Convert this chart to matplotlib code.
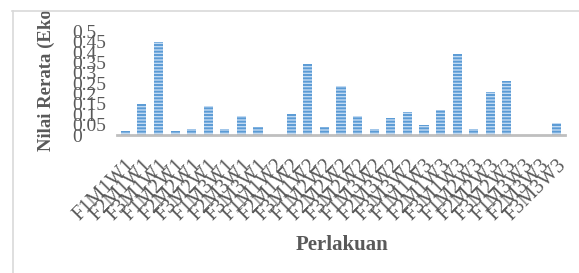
import matplotlib
matplotlib.use("Agg")
import matplotlib.pyplot as plt
import numpy as np

# perlakuan F x M x W, urutan seperti di grafik asli
labels = ["F1M1W1", "F2M1W1", "F3M1W1", "F1M2W1", "F2M2W1", "F3M2W1", "F1M3W1", "F2M3W1", "F3M3W1",
          "F1M1W2", "F2M1W2", "F3M1W2", "F1M2W2", "F2M2W2", "F3M2W2", "F1M3W2", "F2M3W2", "F3M3W2",
          "F1M1W3", "F2M1W3", "F3M1W3", "F1M2W3", "F2M2W3", "F3M2W3", "F1M3W3", "F2M3W3", "F3M3W3"]
values = [0.02, 0.15, 0.45, 0.02, 0.03, 0.14, 0.03, 0.09, 0.04,
          0.0, 0.10, 0.345, 0.04, 0.235, 0.09, 0.03, 0.08, 0.11,
          0.05, 0.12, 0.39, 0.03, 0.21, 0.26, 0.0, 0.0, 0.06]
yticks = [0, 0.05, 0.1, 0.15, 0.2, 0.25, 0.3, 0.35, 0.4, 0.45, 0.5]
ytick_labels = ["0", "0.05", "0.1", "0.15", "0.2", "0.25", "0.3", "0.35", "0.4", "0.45", "0.5"]

plt.rcParams['font.family'] = ['Liberation Serif', 'DejaVu Serif']
plt.rcParams['hatch.linewidth'] = 1.4

fig = plt.figure(figsize=(5.79, 2.73), dpi=100)
ax = fig.add_axes([117/579, 1 - 135/273, 448/579, (135 - 31.5)/273])

x = np.arange(len(labels))
ax.bar(x, values, width=0.55, color="#C2DAF2", edgecolor="#5B9BD5",
       linewidth=0, hatch="-----")

ax.set_xlim(-0.5, len(labels) - 0.5)
ax.set_ylim(0, 0.5)
ax.set_yticks(yticks)
ax.set_yticklabels(ytick_labels, ha="left", fontsize=14, color="#595959")
ax.tick_params(axis="y", length=0, pad=32)
ax.set_xticks(x)
ax.set_xticklabels(labels, rotation=45, ha="right", va="top", rotation_mode="anchor",
                   fontsize=14.5, color="#595959")
ax.tick_params(axis="x", length=0, pad=15)

for s in ["top", "right", "left"]:
    ax.spines[s].set_visible(False)
ax.spines["bottom"].set_color("#BFBFBF")
ax.spines["bottom"].set_linewidth(2)

fig.text(342/579, 1 - 245/273, "Perlakuan", ha="center", va="center",
         fontsize=15, fontweight="bold", color="#595959")
fig.text(46/579, 1 - 151/273, "Nilai Rerata (Ekonomi)", rotation=90, ha="center", va="bottom",
         fontsize=13.5, fontweight="bold", color="#595959")

# bagian atas terpotong oleh bingkai
fig.patches.append(plt.Rectangle((0, 1 - 10.5/273), 1, 10.5/273, transform=fig.transFigure,
                                 facecolor="white", edgecolor="none", zorder=5))
fig.add_artist(plt.Line2D([12/579, 1], [1 - 10.5/273, 1 - 10.5/273], color="#D9D9D9", lw=1.2, zorder=6))
fig.add_artist(plt.Line2D([12.5/579, 12.5/579], [0, 1 - 10.5/273], color="#D9D9D9", lw=1.2, zorder=6))

fig.savefig("out.png", dpi=100)
